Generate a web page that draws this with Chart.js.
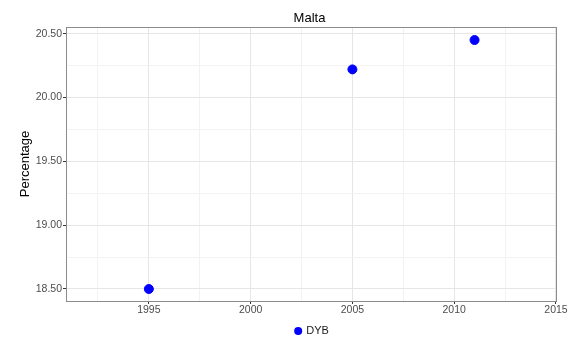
<!DOCTYPE html>
<html>
<head>
<meta charset="utf-8">
<script src="https://cdn.jsdelivr.net/npm/chart.js@4"></script>
<style>
  body { margin: 0; background: #fff; }
</style>
</head>
<body>
<canvas id="maltaChart" width="571" height="343"></canvas>
<script>
// 数据
const chartTitle = 'Malta';
const seriesName = 'DYB';
const years = [1995, 2005, 2011];
const dybValues = [18.50, 20.22, 20.45];

// 刻度
const xMajorTicks = [1995, 2000, 2005, 2010, 2015];
const xMinorTicks = [1992.5, 1997.5, 2002.5, 2007.5, 2012.5];
const yMajorTicks = [18.5, 19.0, 19.5, 20.0, 20.5];
const yMinorTicks = [18.75, 19.25, 19.75, 20.25];

const fontFamily = '"Liberation Sans", Arial, sans-serif';

function isMajor(list, v) {
    return list.some(t => Math.abs(t - v) < 1e-6);
}

// 标题、面板边框和图例
const decorPlugin = {
    id: 'decor',
    afterDraw(chart) {
        const ctx = chart.ctx;
        const area = chart.chartArea;
        const cx = (area.left + area.right) / 2;

        ctx.save();
        // panel border
        ctx.strokeStyle = '#8c8c8c';
        ctx.lineWidth = 1;
        ctx.strokeRect(area.left + 0.5, area.top + 0.5, area.right - area.left - 1, area.bottom - area.top);

        // title
        ctx.fillStyle = '#000';
        ctx.font = '13px ' + fontFamily;
        ctx.textAlign = 'center';
        ctx.textBaseline = 'alphabetic';
        ctx.fillText(chartTitle, cx - 2, 22);

        // legend
        ctx.font = '11px ' + fontFamily;
        const label = chart.data.datasets[0].label;
        const tw = ctx.measureText(label).width;
        const total = 8 + 4 + tw;
        const x0 = cx - total / 2;
        const ly = 331;
        ctx.fillStyle = '#0000ff';
        ctx.beginPath();
        ctx.arc(x0 + 4, ly, 4, 0, Math.PI * 2);
        ctx.fill();
        ctx.fillStyle = '#1a1a1a';
        ctx.textAlign = 'left';
        ctx.textBaseline = 'middle';
        ctx.fillText(label, x0 + 12, ly);
        ctx.restore();
    }
};

const ctx = document.getElementById('maltaChart').getContext('2d');
new Chart(ctx, {
    type: 'scatter',
    data: {
        datasets: [{
            label: seriesName,
            data: years.map((y, i) => ({ x: y, y: dybValues[i] })),
            backgroundColor: '#0000ff',
            borderColor: '#0000ff',
            pointRadius: 4.5,
            pointHoverRadius: 4.5
        }]
    },
    options: {
        responsive: false,
        animation: false,
        devicePixelRatio: 1,
        layout: {
            padding: { top: 27, right: 14, left: 0, bottom: 22 }
        },
        plugins: {
            legend: { display: false },
            title: { display: false },
            tooltip: { enabled: false }
        },
        scales: {
            x: {
                type: 'linear',
                min: 1990.93,
                max: 2015.05,
                afterBuildTicks: scale => {
                    scale.ticks = xMinorTicks.concat(xMajorTicks).sort((a, b) => a - b).map(v => ({ value: v }));
                },
                afterFit: scale => { scale.height = 20; },
                border: { display: false },
                grid: {
                    color: c => isMajor(xMajorTicks, c.tick.value) ? '#e6e6e6' : '#f2f2f2',
                    tickColor: c => isMajor(xMajorTicks, c.tick.value) ? '#333333' : 'rgba(0,0,0,0)',
                    tickLength: 3
                },
                ticks: {
                    color: '#4d4d4d',
                    font: { family: fontFamily, size: 10.5 },
                    padding: 0,
                    maxRotation: 0,
                    autoSkip: false,
                    callback: v => isMajor(xMajorTicks, v) ? String(v) : ''
                }
            },
            y: {
                type: 'linear',
                min: 18.406,
                max: 20.552,
                afterBuildTicks: scale => {
                    scale.ticks = yMinorTicks.concat(yMajorTicks).sort((a, b) => a - b).map(v => ({ value: v }));
                },
                afterFit: scale => { scale.width = 66; },
                border: { display: false },
                grid: {
                    color: c => isMajor(yMajorTicks, c.tick.value) ? '#e6e6e6' : '#f2f2f2',
                    tickColor: c => isMajor(yMajorTicks, c.tick.value) ? '#333333' : 'rgba(0,0,0,0)',
                    tickLength: 3
                },
                title: {
                    display: true,
                    text: 'Percentage',
                    color: '#000',
                    font: { family: fontFamily, size: 13 },
                    padding: { top: 18, bottom: 0 }
                },
                ticks: {
                    color: '#4d4d4d',
                    font: { family: fontFamily, size: 10.5 },
                    padding: 1,
                    autoSkip: false,
                    callback: v => isMajor(yMajorTicks, v) ? v.toFixed(2) : ''
                }
            }
        }
    },
    plugins: [decorPlugin]
});
</script>
</body>
</html>
